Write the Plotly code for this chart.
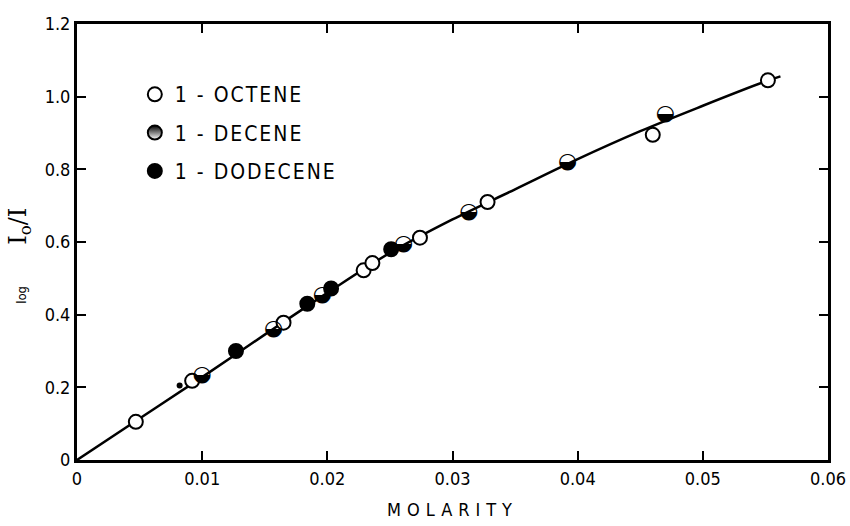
import plotly.graph_objects as go

# ---- data ----
octene_x = [0.0047, 0.0092, 0.0165, 0.0229, 0.0236, 0.0274, 0.0328, 0.0460, 0.0552]
octene_y = [0.105, 0.218, 0.378, 0.522, 0.542, 0.612, 0.710, 0.895, 1.045]

decene_x = [0.0100, 0.0157, 0.0196, 0.0261, 0.0313, 0.0392, 0.0470]
decene_y = [0.232, 0.360, 0.452, 0.592, 0.682, 0.820, 0.952]

dodecene_x = [0.0127, 0.0184, 0.0203, 0.0251]
dodecene_y = [0.300, 0.430, 0.472, 0.580]

stray_x = [0.0082]
stray_y = [0.205]

curve_x = [0.0, 0.005, 0.010, 0.015, 0.020, 0.025, 0.030, 0.035, 0.040, 0.045, 0.050, 0.055, 0.0562]
curve_y = [0.0, 0.114, 0.228, 0.345, 0.460, 0.570, 0.662, 0.745, 0.828, 0.905, 0.975, 1.042, 1.056]

x_ticks = [0, 0.01, 0.02, 0.03, 0.04, 0.05, 0.06]
x_ticktext = ["0", "0.01", "0.02", "0.03", "0.04", "0.05", "0.06"]
y_ticks = [0, 0.2, 0.4, 0.6, 0.8, 1.0, 1.2]
y_ticktext = ["0", "0.2", "0.4", "0.6", "0.8", "1.0", "1.2"]

FONT = "DejaVu Sans Condensed, DejaVu Sans, sans-serif"
MS = 14
LS = "letter-spacing:2px"

fig = go.Figure()

fig.add_trace(go.Scatter(
    x=curve_x, y=curve_y, mode="lines", line=dict(color="black", width=2.5, shape="spline"),
    showlegend=False, hoverinfo="skip"))

fig.add_trace(go.Scatter(
    x=stray_x, y=stray_y, mode="markers", showlegend=False,
    marker=dict(symbol="circle", size=6, color="black")))

fig.add_trace(go.Scatter(
    x=octene_x, y=octene_y, mode="markers", name=f"<span style='{LS}'>1 - OCTENE</span>",
    legendgroup="a",
    marker=dict(symbol="circle", size=MS, color="white", line=dict(color="black", width=2))))

# half-filled markers: glyph U+25D2 (circle with lower half black)
fig.add_trace(go.Scatter(
    x=decene_x, y=decene_y, mode="text", text=["\u25d2"] * len(decene_x),
    textposition="middle center", showlegend=False, legendgroup="b",
    textfont=dict(family="DejaVu Sans", size=22, color="black")))

# legend entry for 1-decene
fig.add_trace(go.Scatter(
    x=[None], y=[None], mode="markers", name=f"<span style='{LS}'>1 - DECENE</span>",
    legendgroup="b",
    marker=dict(symbol="circle", size=MS, color="black",
                gradient=dict(type="vertical", color="white"),
                line=dict(color="black", width=2))))

fig.add_trace(go.Scatter(
    x=dodecene_x, y=dodecene_y, mode="markers", name=f"<span style='{LS}'>1 - DODECENE</span>",
    legendgroup="c",
    marker=dict(symbol="circle", size=MS, color="black", line=dict(color="black", width=2))))

axis_common = dict(
    showgrid=False, zeroline=False, showline=True, linecolor="black", linewidth=3,
    mirror="ticks", ticks="inside", ticklen=9, tickwidth=2, tickcolor="black",
    automargin=False,
    tickfont=dict(family=FONT, size=18, color="black"))

fig.update_layout(
    width=850, height=526,
    margin=dict(l=77, r=22, t=24, b=66),
    paper_bgcolor="white", plot_bgcolor="white",
    font=dict(family=FONT, color="black"),
    xaxis=dict(range=[0, 0.06], tickvals=x_ticks, ticktext=x_ticktext,
               title=dict(text="<span style='letter-spacing:6px'>MOLARITY</span>",
                          font=dict(family=FONT, size=18), standoff=16),
               **axis_common),
    yaxis=dict(range=[0, 1.2], tickvals=y_ticks, ticktext=y_ticktext,
               title=dict(text="<span style='font-size:13px'>log</span>&nbsp;&nbsp;&nbsp;&nbsp;&nbsp;&nbsp;"
                               "<span style='font-family:DejaVu Serif'>I<sub>o</sub>/I</span>"
                               "&nbsp;&nbsp;&nbsp;&nbsp;",
                          font=dict(family=FONT, size=24), standoff=12),
               **axis_common),
    legend=dict(x=0.077, y=0.885, xanchor="left", yanchor="top",
                bgcolor="rgba(0,0,0,0)", borderwidth=0,
                font=dict(family=FONT, size=21, color="black"),
                itemwidth=30, tracegroupgap=8),
)

fig.write_html("out.html")
